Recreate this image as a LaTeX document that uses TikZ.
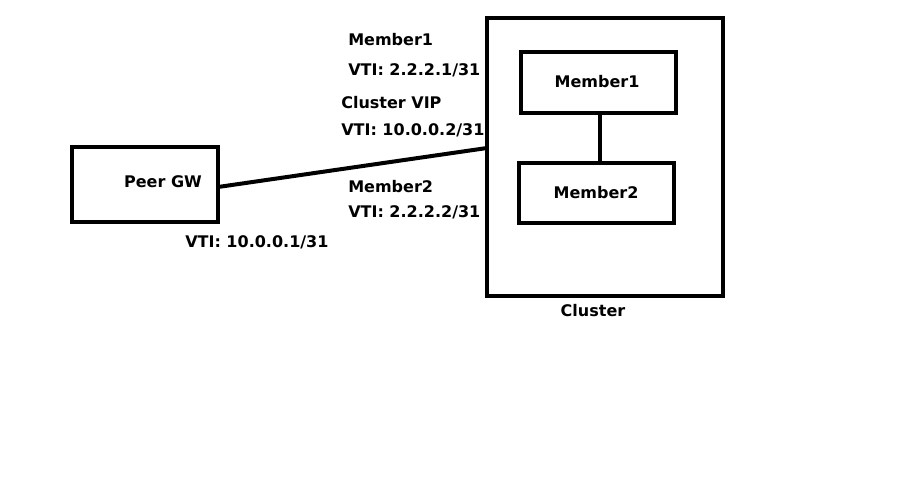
\documentclass[tikz,border=0pt]{standalone}
\usepackage{fontspec}
\setmainfont{DejaVu Sans}
\begin{document}
\begin{tikzpicture}[x=0.75pt,y=-0.75pt,
  box/.style={draw,line width=3pt},
  lbl/.style={anchor=west,inner sep=0pt,font=\bfseries\fontsize{12}{14}\selectfont},
  ctr/.style={inner sep=0pt,font=\bfseries\fontsize{12}{14}\selectfont}]
\useasboundingbox[fill=white] (0,0) rectangle (900,483);
\draw[box] (72,147) rectangle (218,222);
\draw[box] (487,18) rectangle (723,296);
\draw[box] (521,52) rectangle (676,113);
\draw[box] (519,163) rectangle (674,223);
\node[ctr] (peer) at (163,182) {Peer GW};
\node[ctr] (m1) at (597,82) {Member1};
\node[ctr] (m2) at (596,193) {Member2};
\node[ctr] (cl) at (593,311) {Cluster};
\coordinate (pa) at (218,187);
\coordinate (ca) at (487,148);
\coordinate (t1) at (600,113);
\coordinate (t2) at (600,163);
\draw[line width=3pt] (pa) -- (ca);
\draw[line width=2.5pt] (t1) -- (t2);
\node[lbl] (a1) at (348,40) {Member1};
\node[lbl] (a2) at (348,70) {VTI: 2.2.2.1/31};
\node[lbl] (b1) at (341,103) {Cluster VIP};
\node[lbl] (b2) at (341,130) {VTI: 10.0.0.2/31};
\node[lbl] (c1) at (348,187) {Member2};
\node[lbl] (c2) at (348,212) {VTI: 2.2.2.2/31};
\node[lbl] (d1) at (185,242) {VTI: 10.0.0.1/31};
\end{tikzpicture}
\end{document}
